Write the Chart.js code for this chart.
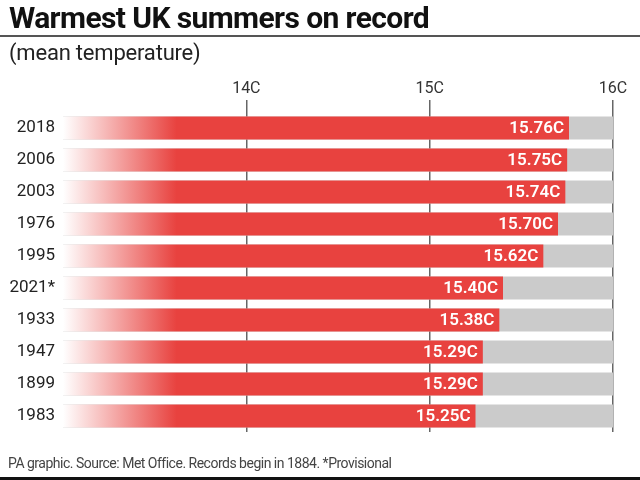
<!DOCTYPE html>
<html>
<head>
<meta charset="utf-8">
<script src="https://cdn.jsdelivr.net/npm/chart.js@4.4.0/dist/chart.umd.min.js"></script>
<style>
  body { margin: 0; background: #fff; }
  #wrap { position: relative; width: 640px; height: 480px; overflow: hidden; font-family: Roboto, sans-serif; }
  #title { position: absolute; left: 9px; top: 0px; font-size: 30px; font-weight: 700; color: #111; letter-spacing: -0.6px; }
  #rule { position: absolute; left: 0; top: 35px; width: 640px; height: 2px; background: #555; }
  #sub { position: absolute; left: 9px; top: 40px; font-size: 22px; font-weight: 400; color: #222; letter-spacing: -0.2px; }
  #foot { position: absolute; left: 8px; top: 455px; font-size: 14px; color: #444; letter-spacing: -0.5px; }
  #bottom { position: absolute; left: 0; top: 477px; width: 640px; height: 3px; background: #111; }
  canvas { position: absolute; left: 0; top: 0; }
</style>
</head>
<body>
<div id="wrap">
  <canvas id="chart" width="640" height="480"></canvas>
  <div id="title">Warmest UK summers on record</div>
  <div id="rule"></div>
  <div id="sub">(mean temperature)</div>
  <div id="foot">PA graphic. Source: Met Office. Records begin in 1884. *Provisional</div>
  <div id="bottom"></div>
</div>
<script>
var years = ["2018", "2006", "2003", "1976", "1995", "2021*", "1933", "1947", "1899", "1983"];
var temps = [15.76, 15.75, 15.74, 15.70, 15.62, 15.40, 15.38, 15.29, 15.29, 15.25];
var axisMin = 13;
var axisMax = 16;
var tickValues = [14, 15, 16];

// labels at the end of each red bar
var valueLabels = {
    id: "valueLabels",
    afterDatasetsDraw: function(chart) {
        var ctx = chart.ctx;
        var meta = chart.getDatasetMeta(1);
        ctx.save();
        ctx.fillStyle = "#ffffff";
        ctx.font = "600 17px Roboto";
        ctx.textAlign = "right";
        ctx.textBaseline = "middle";
        meta.data.forEach(function(bar, i) {
            ctx.fillText(temps[i].toFixed(2) + "C", bar.x - 5, bar.y + 1);
        });
        ctx.restore();
    }
};

var canvasElement = document.getElementById("chart");
var config = {
    type: "bar",
    data: {
        labels: years,
        datasets: [{
                label: "scale",
                data: years.map(function() { return [axisMin, axisMax]; }),
                backgroundColor: "#cbcbcb",
                grouped: false,
                order: 2
            },
            {
                label: "temp",
                data: temps.map(function(v) { return [axisMin, v]; }),
                backgroundColor: function(c) {
                    var chart = c.chart;
                    if (!chart.chartArea) return "#e8423f";
                    var x = chart.scales.x;
                    var g = chart.ctx.createLinearGradient(x.getPixelForValue(axisMin), 0, x.getPixelForValue(13.62), 0);
                    g.addColorStop(0, "#ffffff");
                    g.addColorStop(1, "#e8423f");
                    return g;
                },
                grouped: false,
                order: 1
            }
        ]
    },
    options: {
        indexAxis: "y",
        responsive: false,
        animation: false,
        layout: {
            padding: { top: 71, bottom: 48, left: 0, right: 27 }
        },
        datasets: {
            bar: {
                barPercentage: 0.72,
                categoryPercentage: 1
            }
        },
        plugins: {
            legend: { display: false },
            tooltip: { enabled: false }
        },
        scales: {
            x: {
                position: "top",
                min: axisMin,
                max: axisMax,
                afterBuildTicks: function(scale) {
                    scale.ticks = tickValues.map(function(v) { return { value: v }; });
                },
                afterFit: function(scale) { scale.height = 41; },
                grid: {
                    color: "#666",
                    lineWidth: 1.5,
                    tickLength: 12,
                    drawOnChartArea: true
                },
                border: { display: false },
                ticks: {
                    color: "#333",
                    padding: 1,
                    font: { size: 16, family: "Roboto" },
                    callback: function(v) { return v + "C"; }
                }
            },
            y: {
                afterFit: function(scale) { scale.width = 63; },
                grid: { display: false },
                border: { display: false },
                ticks: {
                    color: "#222",
                    padding: 0,
                    font: { size: 17, family: "Roboto" }
                }
            }
        }
    },
    plugins: [valueLabels]
};
var chart = new Chart(canvasElement, config);
</script>
</body>
</html>
